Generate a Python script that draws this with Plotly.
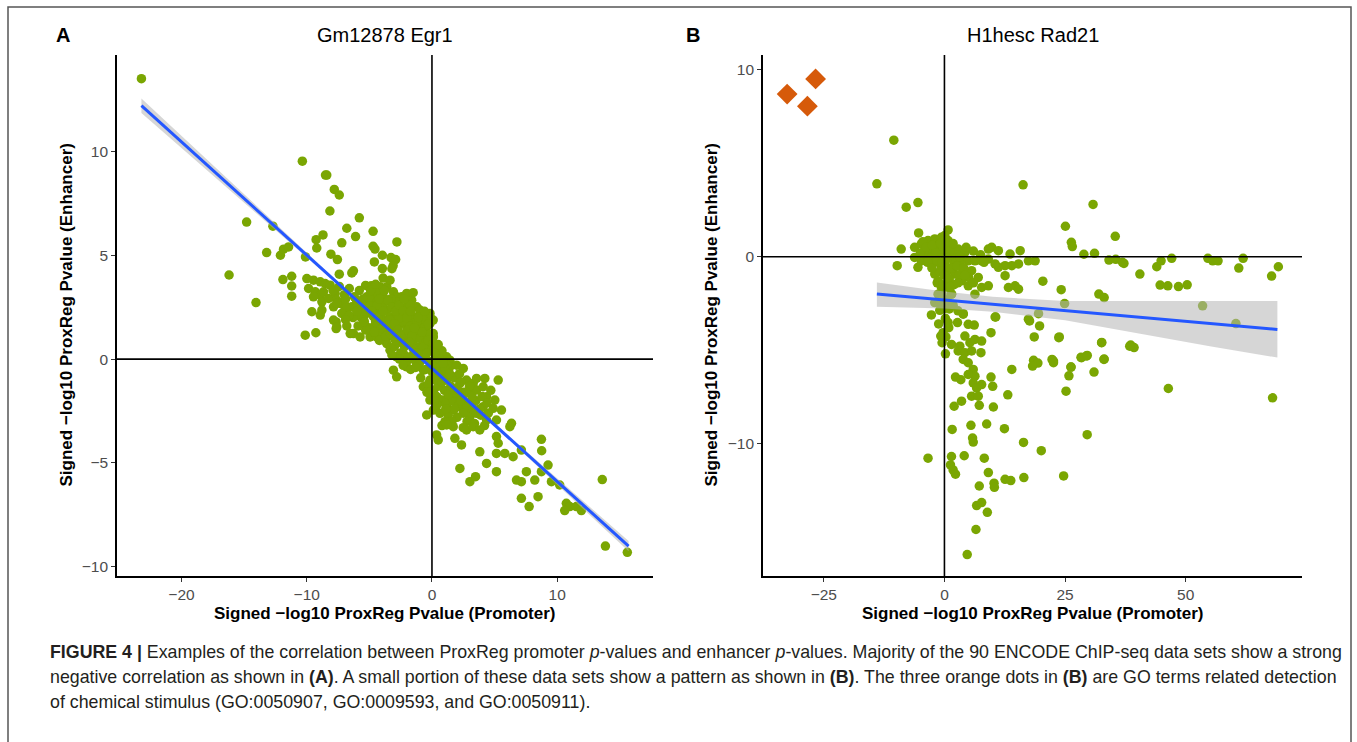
import plotly.graph_objects as go

# ---------------- Panel A: Gm12878 Egr1 (promoter x, enhancer y) ----------------
egr1_outer = [(-23.2, 13.5), (-16.2, 4.05), (-14.8, 6.6), (-14.05, 2.72), (-13.2, 5.13), (-12.7, 6.4),
              (-12.1, 5.0), (-11.85, 5.29), (-11.45, 5.4), (-11.2, 3.99), (-11.9, 3.83), (-11.2, 3.52),
              (-11.2, 3.03), (-10.35, 9.53), (-10.1, 4.92), (-10.12, 1.15), (-9.27, 1.27), (-9.25, 5.75),
              (-9.2, 5.35), (-8.7, 5.98), (-8.5, 8.86), (-8.4, 8.86), (-8.15, 7.13), (-8.07, 5.05),
              (-7.8, 8.17), (-7.4, 7.9), (-7.55, 4.79), (-7.4, 4.09), (-7.2, 5.6), (-6.8, 6.3),
              (-6.4, 4.15), (-6.27, 4.25), (-6.1, 5.9), (-5.8, 6.8), (-5.3, 3.55), (-4.85, 3.53),
              (-4.7, 6.15), (-4.7, 5.43), (-4.55, 5.3), (-4.6, 4.68), (-3.96, 5.0), (-3.96, 4.36),
              (-3.9, 3.9), (-3.27, 4.89), (-2.9, 4.79), (-3.1, 4.5), (-3.2, 4.35), (-2.8, 5.64)]
egr1_upper = [(-9.99, 3.88), (-9.46, 3.8), (-8.92, 3.72), (-8.53, 3.64), (-8.13, 3.56), (-9.85, 3.4),
              (-9.32, 3.24), (-8.92, 3.08), (-8.66, 3.24), (-9.46, 3.0), (-8.79, 2.76), (-8.26, 2.92),
              (-7.73, 3.16), (-7.6, 2.84), (-7.33, 2.68), (-6.93, 2.44), (-7.86, 2.52), (-6.4, 2.52),
              (-6.0, 2.68), (-9.59, 2.28), (-8.92, 2.12), (-8.79, 2.36), (-7.65, 1.79), (-7.65, 1.47),
              (-6.27, 1.23), (-5.21, 3.0), (-4.67, 3.32), (-4.14, 3.48), (-4.41, 3.16), (-4.81, 2.84),
              (-5.47, 2.68), (-5.07, 2.52), (-4.41, 2.52), (-3.88, 3.0), (-3.61, 3.48), (-3.35, 3.8),
              (-3.08, 3.24), (-2.82, 3.0), (-2.42, 3.0), (-2.02, 3.16), (-1.62, 2.84), (-1.22, 2.52),
              (-0.96, 2.2), (-0.69, 2.04), (-0.42, 2.12), (-0.16, 2.2), (0.1, 1.88), (-3.08, 2.68),
              (-2.55, 2.52), (-2.02, 2.52), (-3.61, 2.36), (-4.14, 2.2), (-4.67, 2.04), (-5.21, 2.2),
              (-5.74, 2.04), (-5.21, 1.55), (-4.67, 1.55), (-4.14, 1.55), (-3.61, 1.55), (-3.08, 1.55),
              (-2.55, 1.71), (-2.02, 1.88), (-1.49, 1.88), (-0.96, 1.71), (-0.42, 1.55), (-4.94, 1.07),
              (-4.41, 1.07), (-3.61, 1.07), (-2.82, 1.07), (-2.02, 1.07), (-1.22, 1.23), (-0.42, 1.07),
              (0.1, 1.23)]
egr1_core = [(-7.6, 2.68), (-6.8, 2.52), (-6.0, 2.76), (-4.94, 2.6), (-3.88, 2.68), (-2.82, 2.76),
             (-1.75, 2.6), (-0.96, 2.36), (-0.16, 2.04), (-7.86, 1.88), (-7.6, 1.55), (-6.53, 1.23),
             (-5.74, 1.07), (-5.47, 1.88), (-4.67, 2.2), (-4.14, 1.71), (-3.35, 2.04), (-2.55, 2.2),
             (-1.49, 2.04), (-0.69, 1.88), (-0.16, 1.71), (-4.94, 1.39), (-4.14, 1.07), (-3.61, 0.75),
             (-2.82, 1.23), (-2.02, 1.55), (-1.22, 1.39), (-0.42, 1.23), (0.11, 1.07), (-3.35, 0.43),
             (-2.82, 0.11), (-2.28, 0.27), (-1.49, 0.75), (-0.96, 0.59), (-0.16, 0.43), (0.37, 0.59),
             (0.64, 0.27), (1.17, 0.11), (1.43, -0.05), (-3.08, -0.53), (-2.82, -0.85), (-2.02, -0.37),
             (-1.22, -0.21), (-0.69, -0.53), (-0.16, -0.37), (0.37, -0.37), (0.9, -0.53), (1.43, -0.37),
             (1.97, -0.29), (2.5, -0.45), (-0.16, -1.01), (-0.69, -1.33), (0.11, -1.49), (0.64, -1.17),
             (1.17, -1.01), (1.7, -0.85), (2.23, -1.17), (2.76, -1.01), (3.29, -1.17), (3.56, -0.93),
             (4.22, -0.93), (5.29, -1.01), (-0.16, -1.97), (0.37, -1.81), (0.9, -1.97), (1.43, -1.65),
             (1.97, -1.81), (2.5, -1.97), (3.03, -1.65), (3.56, -1.49), (4.09, -1.33), (4.36, -1.81),
             (5.02, -1.97), (-0.42, -2.69), (0.11, -2.45), (0.64, -2.61), (1.17, -2.29), (1.7, -2.45),
             (2.23, -2.29), (2.76, -2.45), (3.03, -2.77), (3.56, -2.61), (4.09, -2.29), (4.89, -2.37),
             (5.55, -2.45), (-3.5, 1.5), (-3.0, 1.0), (-2.5, 0.8), (-2.0, 1.0), (-1.5, 0.5), (-1.0, 1.0),
             (-0.5, 0.8), (0.0, 0.5), (-2.5, 0.3), (-2.0, -0.1), (-1.5, 0.0), (-1.0, -0.2), (-0.5, 0.0),
             (0.0, -0.1), (0.5, -0.2), (1.0, -0.8), (0.5, -0.7), (0.0, -0.6), (-0.5, -0.5), (1.5, -1.3),
             (2.0, -1.4), (1.0, -1.5), (0.5, -1.3), (2.5, -1.6), (3.0, -2.1), (2.0, -2.2), (1.5, -2.0),
             (1.0, -2.1), (0.5, -1.9), (3.5, -2.0), (2.5, -2.6), (-1.8, 1.6), (-2.4, 1.8), (-3.0, 2.0),
             (-3.8, 1.9), (-4.4, 2.6), (-5.0, 3.0), (-3.3, 2.9), (-2.6, 2.0), (-1.2, 1.8), (-0.6, 1.5),
             (-0.2, 1.2), (-4.0, 1.2), (-4.5, 1.8), (-5.5, 2.3), (-6.3, 2.0), (-6.8, 1.6), (-5.3, 1.4),
             (-3.0, 0.6), (-3.8, 0.9), (-1.2, 0.3), (0.3, 0.2), (0.8, 0.4), (1.2, -0.3), (0.2, -1.0),
             (-0.3, -1.2), (1.8, -0.9), (2.2, -0.7), (3.0, -1.3), (4.0, -1.8), (3.8, -2.4), (4.5, -2.6),
             (2.8, -3.0), (2.0, -2.8), (1.3, -2.7), (4.2, -3.2)]
egr1_dense = [(-7.9, 3.3), (-7.4, 3.5), (-7.0, 3.1), (-6.6, 3.4), (-6.2, 3.0), (-5.8, 3.3), (-5.5, 2.9),
              (-6.9, 2.9), (-7.2, 2.2), (-6.6, 2.1), (-6.0, 2.3), (-5.6, 2.6), (-5.9, 1.6), (-5.4, 1.8),
              (-6.9, 1.9), (-4.9, 3.3), (-4.5, 3.6), (-4.2, 2.9), (-3.8, 3.3), (-3.5, 2.8), (-3.2, 2.5),
              (-2.9, 2.3), (-2.6, 2.6), (-2.3, 2.3), (-2.0, 2.0), (-4.8, 2.3), (-4.3, 2.0), (-3.9, 2.3),
              (-3.4, 1.9), (-3.0, 1.7), (-2.7, 1.4), (-2.3, 1.2), (-1.9, 1.4), (-1.6, 1.1), (-4.6, 1.3),
              (-4.2, 0.9), (-3.7, 1.1), (-3.3, 1.2), (-2.9, 0.9), (-2.5, 1.1), (-2.2, 0.6), (-1.8, 0.8),
              (-1.5, 0.2), (-1.9, 0.1), (-2.6, 0.0), (-3.2, 0.2), (-2.3, -0.3), (-1.7, -0.5), (-1.3, -0.4),
              (-0.9, 0.2), (-0.7, 0.6), (-0.3, 0.9), (-0.8, 1.3), (-1.4, 1.5), (-1.1, 2.0), (-0.6, 2.3),
              (-0.3, 1.7), (-1.7, 2.3), (-2.2, 2.9), (-1.5, 3.2), (-0.9, -0.9), (-0.4, -1.6), (0.2, -1.7),
              (0.6, -0.9), (1.0, -0.4), (1.4, -0.7), (0.8, -1.1), (1.3, -1.7), (1.8, -1.5), (2.3, -1.1),
              (2.7, -1.6), (3.2, -1.8), (2.8, -2.2), (2.3, -2.0), (1.8, -2.4), (1.1, -2.4), (0.4, -2.2),
              (3.3, -2.4), (3.9, -2.7), (4.4, -2.1), (4.7, -1.5), (2.5, -3.3), (3.4, -3.1), (1.6, -3.0),
              (0.8, -3.2), (0.2, -2.0), (-0.2, -1.6), (0.6, 0.0), (0.9, -0.2), (0.2, 0.3), (-0.4, 0.3),
              (0.1, 0.8), (0.5, 0.7)]
egr1_lower = [(1.04, -3.01), (1.7, -3.25), (1.17, -3.17), (0.37, -3.65), (0.5, -3.89), (1.83, -3.81),
              (2.36, -4.13), (2.76, -3.41), (3.29, -3.25), (3.82, -3.41), (4.36, -2.93), (5.15, -2.93),
              (6.22, -3.25), (6.35, -3.09), (5.15, -3.73), (5.29, -4.05), (5.15, -4.54), (3.82, -4.46),
              (4.36, -5.02), (5.82, -4.54), (6.48, -4.7), (2.23, -5.26), (3.03, -5.9), (3.48, -5.66),
              (5.15, -5.42), (7.14, -4.38), (8.74, -3.86), (8.76, -4.41), (9.27, -5.1), (7.54, -5.42),
              (6.75, -5.82), (7.14, -5.9), (8.21, -5.82), (8.74, -5.42), (9.54, -5.9), (10.2, -6.06),
              (7.14, -6.7), (8.47, -6.62), (7.76, -7.1), (10.73, -6.94), (11.0, -7.1), (11.53, -7.1),
              (10.6, -7.29), (11.93, -7.29), (13.6, -5.8), (13.85, -9.0), (15.6, -9.3)]

# linear fit (geom_smooth, lm)
egr1_fit_x = [-23.2, -16.0, -8.0, -1.0, 6.0, 15.7]
egr1_fit_y = [12.2, 8.28, 3.92, 0.10, -3.71, -9.0]
egr1_fit_lo = [11.85, 8.06, 3.84, 0.04, -3.79, -9.25]
egr1_fit_hi = [12.55, 8.5, 4.0, 0.16, -3.63, -8.75]

# ---------------- Panel B: H1hesc Rad21 ----------------
rad21_points = [(-10.49, 6.24), (16.3, 3.85), (-7.92, 2.65), (-5.49, 2.9), (25.07, 1.63), (26.3, 0.77),
                (26.5, 0.54), (0.76, 1.43), (-5.35, 1.27), (-8.96, 0.41), (-9.79, -0.48), (20.4, -1.31),
                (24.2, -1.77), (24.9, -2.51), (19.5, -3.05), (17.4, -3.35), (10.5, -3.23), (-2.7, -3.12),
                (3.9, -3.05), (-14.0, 3.9),
                (-6.18, 0.5), (-4.79, 0.68), (-3.4, 0.86), (-2.01, 0.95), (-0.63, 1.04), (0.07, 1.13),
                (0.76, 0.86), (-6.18, -0.04), (-4.79, -0.22), (-5.49, -0.57), (-4.1, 0.14), (-2.71, 0.32),
                (-1.32, 0.5), (0.07, 0.32), (1.46, 0.5), (2.85, 0.41), (4.24, 0.23), (4.93, -0.22),
                (6.32, -0.22), (7.71, -0.22), (9.1, -0.13), (9.79, 0.5), (11.18, 0.32), (9.1, 0.41),
                (13.6, 0.14), (15.7, 0.32), (17.4, -0.22), (18.8, -0.22), (15.35, -0.39), (13.96, -0.48),
                (12.57, -0.48), (11.18, -0.57), (10.49, -0.39), (-2.01, -0.93), (-1.32, -1.29),
                (-0.63, -0.57), (0.76, -0.75), (2.15, -0.93), (3.54, -0.57), (5.63, -0.75), (7.01, -1.11),
                (3.54, -1.29), (4.93, -1.56), (6.32, -2.01), (7.71, -1.65), (9.1, -1.56), (12.57, -1.02),
                (13.26, -1.65), (14.65, -1.56), (15.35, -1.74), (0.76, -1.65), (1.46, -2.01), (-1.32, -2.01),
                (-2.01, -2.46), (0.76, -2.54), (-0.63, -1.65),
                (-3.0, 0.0), (-2.0, -0.3), (-1.0, 0.2), (0.0, -0.2), (1.0, 0.1), (2.0, -0.3), (-1.0, -0.8),
                (0.0, -1.0), (1.0, -1.2), (2.0, -1.5), (-0.5, -2.0), (0.5, -2.3), (1.5, -2.0), (-3.5, -0.3),
                (3.0, -1.0), (-1.5, 0.6), (0.4, 0.6), (2.5, 0.1), (3.5, -0.2), (-0.3, -2.8), (0.2, -3.3),
                (1.0, -2.8), (-4.2, 0.3), (-5.0, 0.2), (6.0, 0.3), (7.5, 0.1), (8.2, -0.3), (5.0, -1.1),
                (6.0, -1.4), (-0.2, 0.4), (0.3, -0.5),
                (-4.5, 0.8), (-3.8, 0.5), (-2.5, 0.6), (-1.8, 0.2), (-0.8, 0.7), (0.2, 0.9), (1.2, 0.3),
                (1.8, 0.7), (3.2, 0.0), (4.5, 0.5), (-2.6, -0.6), (-1.6, -0.2), (-0.5, -0.3), (0.6, -0.1),
                (1.6, -0.6), (2.6, -0.5), (4.0, -0.6), (-1.5, -1.4), (-0.3, -1.5), (1.3, -1.6), (2.8, -1.4),
                (4.2, -1.0), (-0.9, -2.5), (1.8, -2.6), (2.8, -2.9), (0.9, -3.8), (0.3, -4.3), (-1.2, -3.6),
                (30.8, 2.8), (35.4, 1.09), (28.9, 0.13), (31.1, 0.18), (34.1, -0.18), (35.5, -0.14),
                (37.2, -0.36), (36.9, -0.3), (40.5, -0.93), (44.0, -0.54), (44.9, -0.22), (47.1, -0.09),
                (44.7, -1.52), (46.3, -1.56), (48.5, -1.6), (50.3, -1.51), (54.6, -0.09), (55.6, -0.22),
                (56.7, -0.22), (61.9, -0.09), (61.0, -0.61), (67.8, -1.04), (69.2, -0.54), (32.0, -2.0),
                (33.1, -2.19), (53.5, -2.63), (60.4, -3.58), (23.7, -4.34), (32.6, -4.59), (38.6, -4.73),
                (39.3, -4.87), (22.6, -5.59), (28.4, -5.41), (29.4, -5.32), (33.1, -5.48), (26.2, -5.91),
                (25.8, -6.38), (31.0, -6.18), (25.2, -7.2), (46.4, -7.06), (68.0, -7.56),
                (-0.97, -2.87), (3.89, -3.08), (10.63, -3.23), (2.71, -3.53), (4.93, -3.62), (6.18, -3.66),
                (0.76, -3.53), (-0.28, -4.07), (-0.76, -4.25), (-0.49, -4.61), (0.21, -5.2), (9.65, -4.07),
                (17.64, -3.44), (19.72, -3.71), (18.61, -4.3), (23.8, -4.3), (32.57, -4.61), (33.06, -5.5),
                (38.4, -4.79), (1.46, -4.7), (3.19, -4.79), (4.24, -4.25), (5.28, -4.61), (6.32, -4.43),
                (7.71, -4.52), (2.85, -5.05), (4.24, -5.14), (5.63, -5.05), (7.57, -5.14), (3.89, -5.5),
                (4.93, -5.68), (5.97, -6.04), (6.32, -6.4), (4.93, -6.31), (5.97, -6.76), (6.67, -7.03),
                (7.71, -6.85), (5.63, -7.47), (7.01, -7.47), (2.29, -6.45), (3.4, -6.59), (9.65, -6.45),
                (10.0, -6.94), (13.96, -6.04), (13.13, -7.4), (18.47, -5.55), (19.37, -5.7), (18.26, -5.86),
                (22.3, -5.5), (22.6, -5.68), (26.25, -5.91), (28.3, -5.39), (29.6, -5.29), (2.01, -8.01),
                (3.54, -7.74), (7.22, -7.96), (10.14, -8.05), (1.6, -9.25), (5.49, -9.03), (8.75, -8.96),
                (12.43, -9.21), (5.83, -9.71), (5.97, -9.93), (16.39, -9.95), (20.07, -10.39),
                (29.58, -9.53), (-3.4, -10.79), (1.46, -10.7), (4.1, -10.66), (8.26, -10.79), (1.25, -11.15),
                (1.8, -11.42), (2.29, -11.65), (9.1, -11.56), (12.57, -11.92), (13.75, -11.99),
                (16.46, -11.83), (24.7, -11.74), (7.22, -12.28), (10.28, -12.13), (10.35, -12.35),
                (6.67, -13.33), (7.71, -13.17), (8.89, -13.69), (6.53, -14.61), (4.72, -15.95)]
rad21_go_terms = [(-32.6, 8.71), (-28.4, 8.06), (-26.7, 9.52)]  # GO:0050907, GO:0009593, GO:0050911

rad21_fit_x = [-14, 0, 10, 25, 40, 55, 69]
rad21_fit_y = [-2.0, -2.32, -2.55, -2.89, -3.24, -3.58, -3.9]
rad21_fit_lo = [-2.68, -2.78, -2.95, -3.41, -4.1, -4.8, -5.4]
rad21_fit_hi = [-1.38, -1.86, -2.15, -2.37, -2.38, -2.38, -2.38]

x_ticks_a = [-20, -10, 0, 10]
y_ticks_a = [-10, -5, 0, 5, 10]
x_ticks_b = [-25, 0, 25, 50]
y_ticks_b = [-10, 0, 10]

GREEN = "#7aa602"
BLUE = "#2457ff"
ORANGE = "#d65a0a"
W, H = 1357, 742


def px(v):
    return v / W


def py(v):
    return 1 - v / H


fig = go.Figure()

egr1_all = egr1_outer + egr1_upper + egr1_core + egr1_dense + egr1_lower
fig.add_trace(go.Scatter(x=[p[0] for p in egr1_all], y=[p[1] for p in egr1_all], mode="markers",
                         marker=dict(color=GREEN, size=9.5, line=dict(width=0)), xaxis="x", yaxis="y",
                         showlegend=False, hoverinfo="skip"))
fig.add_trace(go.Scatter(x=egr1_fit_x + egr1_fit_x[::-1], y=egr1_fit_hi + egr1_fit_lo[::-1], fill="toself",
                         fillcolor="rgba(180,180,180,0.55)", line=dict(width=0), mode="lines",
                         xaxis="x", yaxis="y", showlegend=False, hoverinfo="skip"))
fig.add_trace(go.Scatter(x=egr1_fit_x, y=egr1_fit_y, mode="lines", line=dict(color=BLUE, width=3),
                         xaxis="x", yaxis="y", showlegend=False, hoverinfo="skip"))

fig.add_trace(go.Scatter(x=[p[0] for p in rad21_points], y=[p[1] for p in rad21_points], mode="markers",
                         marker=dict(color=GREEN, size=9.5, line=dict(width=0)), xaxis="x2", yaxis="y2",
                         showlegend=False, hoverinfo="skip"))
fig.add_trace(go.Scatter(x=rad21_fit_x + rad21_fit_x[::-1], y=rad21_fit_hi + rad21_fit_lo[::-1], fill="toself",
                         fillcolor="rgba(180,180,180,0.55)", line=dict(width=0), mode="lines",
                         xaxis="x2", yaxis="y2", showlegend=False, hoverinfo="skip"))
fig.add_trace(go.Scatter(x=rad21_fit_x, y=rad21_fit_y, mode="lines", line=dict(color=BLUE, width=3),
                         xaxis="x2", yaxis="y2", showlegend=False, hoverinfo="skip"))
fig.add_trace(go.Scatter(x=[p[0] for p in rad21_go_terms], y=[p[1] for p in rad21_go_terms], mode="markers",
                         marker=dict(color=ORANGE, size=16, symbol="diamond", line=dict(width=0)),
                         xaxis="x2", yaxis="y2", showlegend=False, hoverinfo="skip"))

FONT = "Liberation Sans, Arial, Helvetica, sans-serif"
axis_common = dict(showgrid=False, zeroline=False, showline=True, linecolor="black", linewidth=1.6,
                   ticks="outside", ticklen=4, tickwidth=1.2, tickcolor="#333333",
                   tickfont=dict(family=FONT, size=15.5, color="#4d4d4d"))

fig.update_layout(
    width=W, height=H, autosize=False,
    margin=dict(l=0, r=0, t=0, b=0),
    paper_bgcolor="white", plot_bgcolor="white",
    xaxis=dict(domain=[px(117), px(653)], range=[-25.15, 17.65], tickvals=x_ticks_a, anchor="y", **axis_common),
    yaxis=dict(domain=[py(576), py(55)], range=[-10.44, 14.64], tickvals=y_ticks_a, anchor="x", **axis_common),
    xaxis2=dict(domain=[px(763), px(1302)], range=[-37.6, 74.1], tickvals=x_ticks_b, anchor="y2", **axis_common),
    yaxis2=dict(domain=[py(576), py(55)], range=[-17.1, 10.8], tickvals=y_ticks_b, anchor="x2", **axis_common),
)

shapes = []
for xr, yr in (("x", "y"), ("x2", "y2")):
    shapes.append(dict(type="line", xref=f"{xr} domain", yref=yr, x0=0, x1=1, y0=0, y1=0,
                       line=dict(color="black", width=1.6), layer="above"))
    shapes.append(dict(type="line", xref=xr, yref=f"{yr} domain", x0=0, x1=0, y0=0, y1=1,
                       line=dict(color="black", width=1.6), layer="above"))
# figure frame
shapes.append(dict(type="rect", xref="paper", yref="paper", x0=px(8), x1=px(1351), y0=-0.05, y1=py(7),
                   line=dict(color="#555555", width=1.5), fillcolor="rgba(0,0,0,0)", layer="above"))
fig.update_layout(shapes=shapes)

ann = []
ann.append(dict(text="<b>A</b>", x=px(63), y=py(35), xref="paper", yref="paper", showarrow=False,
                xanchor="center", yanchor="middle", font=dict(family=FONT, size=20, color="black")))
ann.append(dict(text="<b>B</b>", x=px(693), y=py(35), xref="paper", yref="paper", showarrow=False,
                xanchor="center", yanchor="middle", font=dict(family=FONT, size=20, color="black")))
ann.append(dict(text="Gm12878 Egr1", x=0.5, xref="x domain", y=py(35), yref="paper", showarrow=False,
                xanchor="center", yanchor="middle", font=dict(family=FONT, size=20, color="black")))
ann.append(dict(text="H1hesc Rad21", x=0.5, xref="x2 domain", y=py(35), yref="paper", showarrow=False,
                xanchor="center", yanchor="middle", font=dict(family=FONT, size=20, color="black")))
xt = "<b>Signed \u2212log10 ProxReg Pvalue (Promoter)</b>"
yt = "<b>Signed \u2212log10 ProxReg Pvalue (Enhancer)</b>"
for xr in ("x domain", "x2 domain"):
    ann.append(dict(text=xt, x=0.5, xref=xr, y=py(613), yref="paper", showarrow=False,
                    xanchor="center", yanchor="middle", font=dict(family=FONT, size=17, color="black")))
for xpix, yr in ((66, "y domain"), (711, "y2 domain")):
    ann.append(dict(text=yt, x=px(xpix), xref="paper", y=0.5, yref=yr, showarrow=False, textangle=-90,
                    xanchor="center", yanchor="middle", font=dict(family=FONT, size=17, color="black")))

caption_lines = [
    "<b>FIGURE 4 |</b> Examples of the correlation between ProxReg promoter <i>p</i>-values and enhancer "
    "<i>p</i>-values. Majority of the 90 ENCODE ChIP-seq data sets show a strong",
    "negative correlation as shown in <b>(A)</b>. A small portion of these data sets show a pattern as shown in "
    "<b>(B)</b>. The three orange dots in <b>(B)</b> are GO terms related detection",
    "of chemical stimulus (GO:0050907, GO:0009593, and GO:0050911).",
]
for i, line in enumerate(caption_lines):
    ann.append(dict(text=line, x=px(48), y=py(652 + 25 * i), xref="paper", yref="paper", xanchor="left",
                    yanchor="middle", showarrow=False, align="left",
                    font=dict(family=FONT, size=17.8, color="#231f20")))
fig.update_layout(annotations=ann)

fig.write_html("out.html")
